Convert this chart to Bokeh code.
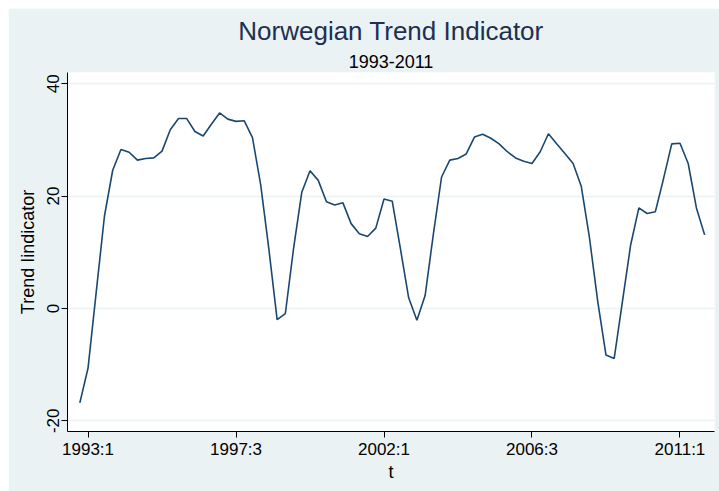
from bokeh.plotting import figure
from bokeh.models import Range1d, FixedTicker, Title, ColumnDataSource
from bokeh.embed import file_html
from bokeh.resources import INLINE

# quarter index: 0 = 1993:1 (series starts one quarter earlier)
quarter_index = list(range(-1, 76))
trend = [-16.8, -10.6, 3.0, 16.5, 24.6, 28.3, 27.8, 26.4, 26.7, 26.8,
         28.0, 31.8, 33.8, 33.8, 31.5, 30.7, 32.8, 34.8, 33.7, 33.3,
         33.4, 30.4, 22.0, 10.5, -2.0, -0.9, 10.7, 20.7, 24.5, 22.8,
         19.0, 18.4, 18.8, 15.1, 13.3, 12.8, 14.3, 19.5, 19.1, 10.6,
         1.9, -2.1, 2.3, 13.2, 23.4, 26.4, 26.7, 27.5, 30.5, 31.0,
         30.3, 29.3, 27.9, 26.8, 26.2, 25.8, 27.9, 31.1, 29.3, 27.6,
         25.8, 21.7, 12.5, 1.2, -8.3, -8.9, 1.2, 11.3, 17.9, 16.9,
         17.2, 23.1, 29.3, 29.4, 25.8, 17.9, 13.1]
x_ticks = [0, 18, 36, 54, 72]
x_tick_labels = ["1993:1", "1997:3", "2002:1", "2006:3", "2011:1"]
y_ticks = [-20, 0, 20, 40]
y_tick_labels = ["-20", "0", "20", "40"]

BG = "#EAF2F3"
FONT = "Liberation Sans"

p = figure(width=711, height=483, output_backend="svg", toolbar_location=None,
           x_range=Range1d(-2.5, 76.2), y_range=Range1d(-21.9, 42.0),
           min_border_left=59, min_border_right=5, min_border_top=64,
           min_border_bottom=60, margin=(8, 0, 0, 8))
p.background_fill_color = "white"
p.border_fill_color = BG
p.outline_line_color = None

src = ColumnDataSource(dict(t=quarter_index, v=trend))
p.line("t", "v", source=src, line_color="#1A476F", line_width=1.6)

# titles (added innermost first)
p.add_layout(Title(text="1993-2011", align="center", text_font=FONT,
                   text_font_size="18px", text_font_style="normal",
                   text_color="black", standoff=9), "above")
p.add_layout(Title(text="Norwegian Trend Indicator", align="center", text_font=FONT,
                   text_font_size="26px", text_font_style="normal",
                   text_color="#1E2F52", standoff=6), "above")

xa = p.xaxis[0]
xa.ticker = FixedTicker(ticks=x_ticks)
xa.major_label_overrides = {t: l for t, l in zip(x_ticks, x_tick_labels)}
xa.axis_label = "t"
ya = p.yaxis[0]
ya.ticker = FixedTicker(ticks=y_ticks)
ya.major_label_overrides = {t: l for t, l in zip(y_ticks, y_tick_labels)}
ya.axis_label = "Trend Iindicator"
ya.major_label_orientation = "vertical"

for ax in (xa, ya):
    ax.minor_tick_line_color = None
    ax.major_tick_in = 0
    ax.major_tick_out = 6
    ax.axis_line_color = "black"
    ax.major_tick_line_color = "black"
    ax.major_label_text_font = FONT
    ax.major_label_text_font_size = "17px"
    ax.major_label_text_color = "black"
    ax.major_label_standoff = 2
    ax.axis_label_text_font = FONT
    ax.axis_label_text_font_size = "18px"
    ax.axis_label_text_font_style = "normal"
    ax.axis_label_text_color = "black"
xa.axis_label_standoff = 0
ya.axis_label_standoff = 7

p.xgrid.grid_line_color = None
p.ygrid.grid_line_color = BG
p.ygrid.grid_line_width = 1.5

open("out.html", "w").write(file_html(p, INLINE))
